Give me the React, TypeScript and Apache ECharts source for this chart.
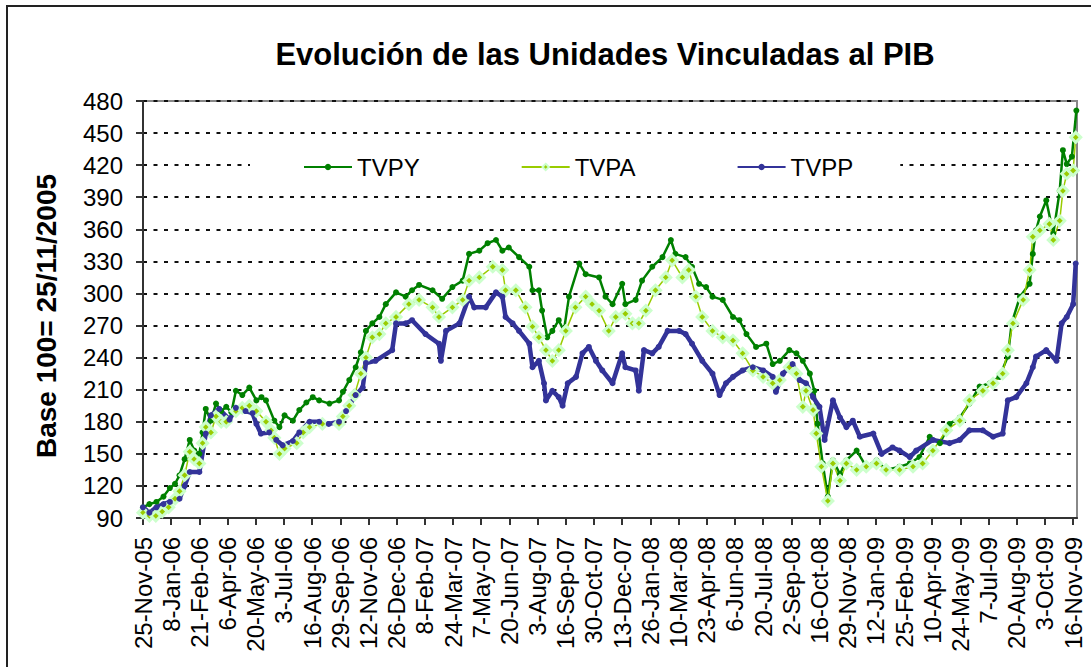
import React, { useEffect, useRef } from "react";
import * as echarts from "echarts";

// Day offsets are counted from 25-Nov-2005 (base 100)
const baseDate = Date.UTC(2005, 10, 25);
const lastDay = 1458;
const tickStep = 44;
const monthNames = ["Jan", "Feb", "Mar", "Apr", "May", "Jun", "Jul", "Aug", "Sep", "Oct", "Nov", "Dec"];

const yTicks = { min: 90, max: 480, step: 30 };

const tvpyDays = [0, 10, 21, 32, 42, 50, 57, 65, 73, 80, 88, 93, 98, 106, 114, 122, 130, 138, 145, 155, 166, 177, 185, 192, 205, 213, 221, 234, 244, 255, 265, 275, 291, 306, 312, 322, 332, 340, 348, 358, 369, 379, 395, 410, 420, 431, 452, 467, 483, 499, 509, 525, 538, 551, 561, 571, 587, 603, 608, 618, 623, 631, 639, 649, 657, 665, 681, 691, 712, 722, 733, 748, 753, 769, 779, 795, 811, 824, 831, 847, 857, 868, 879, 889, 905, 921, 931, 942, 957, 973, 983, 994, 1009, 1020, 1030, 1041, 1048, 1053, 1061, 1069, 1077, 1088, 1098, 1114, 1129, 1145, 1160, 1181, 1197, 1212, 1228, 1244, 1259, 1275, 1290, 1306, 1322, 1337, 1350, 1356, 1369, 1384, 1389, 1394, 1400, 1410, 1421, 1431, 1436, 1442, 1450, 1457];
const tvpyValues = [100, 103, 105, 110, 118, 122, 130, 145, 163, 153, 150, 170, 192, 181, 197, 190, 194, 189, 209, 205, 212, 200, 203, 200, 181, 175, 186, 181, 191, 198, 203, 200, 197, 200, 208, 219, 231, 245, 265, 272, 278, 290, 301, 297, 303, 308, 303, 295, 306, 312, 337, 340, 347, 350, 340, 343, 334, 325, 303, 303, 284, 259, 265, 275, 265, 297, 328, 318, 315, 297, 290, 309, 290, 294, 312, 325, 334, 350, 337, 334, 325, 309, 306, 297, 294, 278, 275, 262, 250, 253, 234, 237, 247, 244, 237, 225, 209, 178, 141, 110, 144, 131, 144, 153, 138, 144, 135, 138, 141, 147, 166, 160, 178, 184, 197, 213, 216, 222, 241, 272, 297, 309, 337, 359, 372, 387, 356, 396, 434, 421, 428, 471];

const tvpaDays = [0, 10, 20, 30, 40, 50, 57, 65, 73, 80, 88, 93, 98, 106, 114, 122, 130, 145, 155, 166, 177, 192, 200, 205, 213, 221, 240, 250, 260, 280, 306, 312, 322, 330, 340, 348, 358, 369, 379, 395, 415, 431, 452, 462, 483, 499, 509, 525, 546, 561, 566, 582, 597, 608, 618, 629, 639, 649, 660, 675, 691, 701, 712, 727, 738, 753, 764, 774, 785, 800, 816, 826, 842, 852, 863, 873, 889, 905, 921, 936, 952, 968, 983, 994, 1009, 1020, 1030, 1035, 1046, 1051, 1059, 1069, 1077, 1088, 1098, 1114, 1129, 1145, 1160, 1181, 1202, 1217, 1233, 1254, 1275, 1290, 1311, 1327, 1342, 1350, 1358, 1374, 1384, 1389, 1400, 1415, 1421, 1431, 1436, 1442, 1452, 1456];
const tvpaValues = [95, 92, 92, 96, 100, 108, 115, 130, 152, 145, 141, 160, 175, 170, 185, 180, 180, 190, 193, 195, 190, 180, 172, 165, 150, 155, 160, 170, 175, 178, 178, 185, 195, 205, 225, 240, 259, 262, 272, 278, 290, 294, 287, 278, 287, 294, 312, 315, 325, 322, 303, 303, 287, 269, 259, 247, 237, 247, 265, 287, 297, 290, 284, 265, 278, 281, 272, 272, 284, 303, 315, 331, 315, 322, 297, 278, 265, 259, 256, 244, 228, 222, 216, 219, 231, 225, 194, 209, 191, 169, 138, 106, 141, 125, 141, 135, 138, 141, 135, 135, 138, 141, 153, 172, 181, 200, 209, 216, 225, 247, 272, 294, 322, 353, 359, 365, 350, 368, 396, 412, 415, 446];

const tvppDays = [0, 10, 21, 32, 42, 57, 65, 73, 88, 98, 106, 119, 135, 145, 160, 171, 177, 184, 197, 208, 218, 234, 244, 260, 275, 290, 306, 317, 332, 343, 348, 363, 389, 395, 410, 420, 441, 462, 465, 473, 494, 509, 517, 535, 551, 561, 566, 577, 587, 603, 608, 618, 626, 629, 639, 649, 655, 663, 676, 686, 696, 707, 717, 733, 748, 753, 769, 774, 782, 795, 805, 819, 837, 847, 857, 873, 889, 900, 910, 921, 936, 952, 968, 983, 988, 999, 1014, 1025, 1035, 1046, 1056, 1064, 1077, 1088, 1098, 1108, 1119, 1140, 1153, 1170, 1181, 1197, 1207, 1233, 1259, 1275, 1290, 1311, 1327, 1342, 1350, 1363, 1379, 1389, 1394, 1410, 1426, 1434, 1442, 1452, 1456];
const tvppValues = [100, 95, 100, 103, 105, 108, 120, 133, 133, 169, 186, 192, 182, 193, 190, 188, 178, 169, 170, 163, 158, 162, 170, 180, 180, 178, 180, 190, 205, 212, 235, 237, 247, 272, 272, 275, 262, 253, 237, 265, 272, 297, 287, 287, 301, 297, 278, 272, 265, 253, 231, 237, 216, 200, 209, 203, 195, 216, 222, 244, 250, 237, 228, 216, 244, 231, 228, 209, 247, 244, 250, 265, 265, 262, 253, 237, 225, 205, 216, 222, 228, 231, 228, 222, 208, 225, 234, 219, 216, 203, 194, 163, 200, 184, 175, 181, 166, 169, 150, 156, 153, 147, 153, 163, 160, 163, 172, 172, 166, 169, 200, 203, 216, 231, 241, 247, 237, 272, 278, 290, 328];

const seriesNames = ["TVPY", "TVPA", "TVPP"];

function dayLabel(day: number): string {
  const d = new Date(baseDate + day * 86400000);
  return `${d.getUTCDate()}-${monthNames[d.getUTCMonth()]}-${String(d.getUTCFullYear()).slice(2)}`;
}

const categories: string[] = [];
for (let i = 0; i <= lastDay; i++) categories.push(dayLabel(i));

const FONT = "'Liberation Sans', Arial, sans-serif";

export default function App() {
  const ref = useRef<HTMLDivElement>(null);
  useEffect(() => {
    document.body.style.margin = "0";
    if (!ref.current) return;
    const chart = echarts.init(ref.current, null, { renderer: "svg" });
    const pair = (days: number[], vals: number[]) => days.map((d, i) => [d, vals[i]]);
    chart.setOption({
      animation: false,
      backgroundColor: "#fff",
      textStyle: { fontFamily: FONT },
      grid: { left: 143, right: 14, top: 101, bottom: 149, show: true, borderColor: "#888", borderWidth: 2, backgroundColor: "transparent" },
      legend: {
        data: seriesNames,
        left: 250,
        top: 148,
        padding: [7, 47, 7, 53],
        itemWidth: 48,
        itemHeight: 8,
        itemGap: 101,
        backgroundColor: "#fff",
        textStyle: { fontSize: 24, color: "#000", fontFamily: FONT, lineHeight: 24 },
      },
      xAxis: {
        type: "category",
        data: categories,
        boundaryGap: false,
        axisLine: { lineStyle: { color: "#333", width: 2 } },
        axisTick: { length: 7, lineStyle: { color: "#333", width: 2 }, interval: (i: number) => i % tickStep === 0 },
        axisLabel: { interval: (i: number) => i % tickStep === 0, rotate: 90, fontSize: 24, color: "#000", margin: 19, fontFamily: FONT },
        splitLine: { show: false },
      },
      yAxis: {
        type: "value",
        min: yTicks.min,
        max: yTicks.max,
        interval: yTicks.step,
        axisLine: { show: true, lineStyle: { color: "#333", width: 2 } },
        axisTick: { show: true, length: 7, lineStyle: { color: "#333", width: 2 } },
        axisLabel: { fontSize: 24, color: "#000", margin: 20, fontFamily: FONT },
        splitLine: { show: true, lineStyle: { color: "#111", width: 2, type: [4, 6.5] } },
      },
      graphic: [
        { type: "rect", shape: { x: 7, y: 6, width: 1100, height: 700 }, style: { fill: "none", stroke: "#222", lineWidth: 2 }, silent: true, z: 100 },
        { type: "text", x: 605, y: 54, style: { text: "Evolución de las Unidades Vinculadas al PIB", font: `bold 31px ${FONT}`, fill: "#000", textAlign: "center", textVerticalAlign: "middle" } },
        { type: "text", x: 46, y: 316, rotation: Math.PI / 2, style: { text: "Base 100= 25/11/2005", font: `bold 28px ${FONT}`, fill: "#000", textAlign: "center", textVerticalAlign: "middle" } },
      ],
      series: [
        {
          name: "TVPY",
          type: "line",
          data: pair(tvpyDays, tvpyValues),
          symbol: "circle",
          symbolSize: 6,
          showAllSymbol: true,
          lineStyle: { color: "#008000", width: 2.5 },
          itemStyle: { color: "#008000" },
        },
        {
          name: "TVPA",
          type: "line",
          data: pair(tvpaDays, tvpaValues),
          symbol: "diamond",
          symbolSize: 10,
          showAllSymbol: true,
          lineStyle: { color: "#99CC00", width: 1.5 },
          itemStyle: { color: "#99CC00", borderColor: "#CCFFCC", borderWidth: 3 },
        },
        {
          name: "TVPP",
          type: "line",
          data: pair(tvppDays, tvppValues),
          symbol: "circle",
          symbolSize: 6,
          showAllSymbol: true,
          lineStyle: { color: "#333399", width: 4.5 },
          itemStyle: { color: "#333399" },
        },
      ],
    });
    return () => chart.dispose();
  }, []);
  return <div ref={ref} style={{ width: 1091, height: 667 }} />;
}
